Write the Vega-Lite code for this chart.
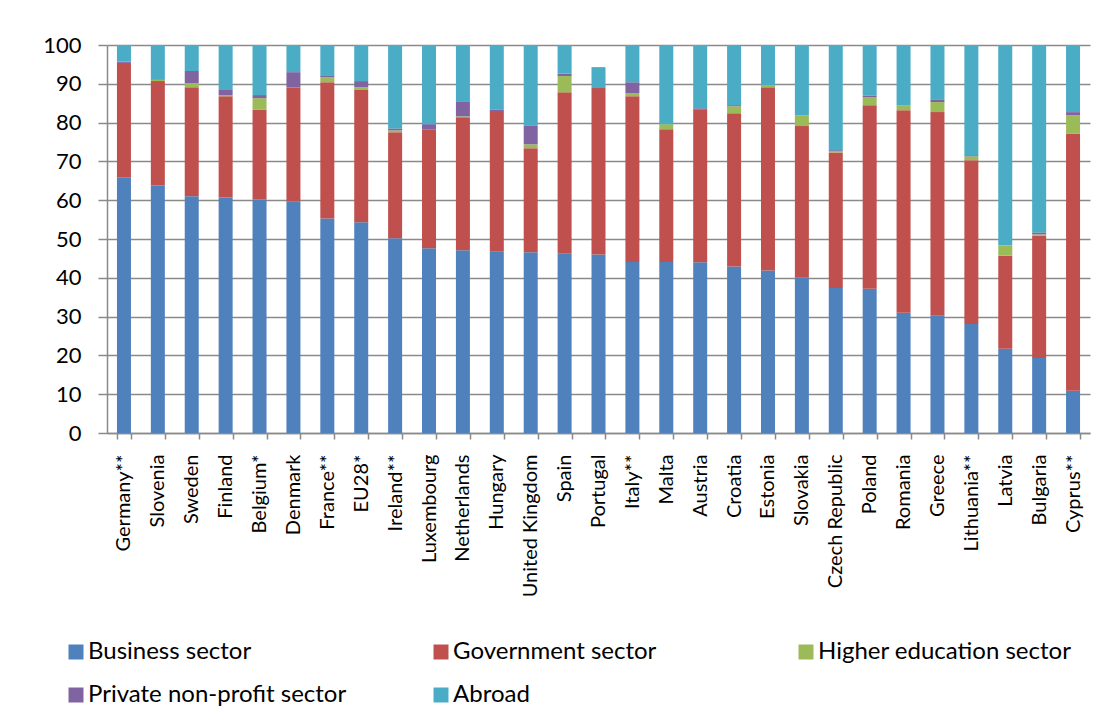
{
  "$schema": "https://vega.github.io/schema/vega-lite/v6.json",
  "width": 983,
  "height": 388,
  "autosize": {"type": "none"},
  "padding": {"left": 107, "top": 45, "right": 17, "bottom": 293},
  "background": "white",
  "data": {
    "values": [
      {"country": "Germany**", "Business sector": 65.9, "Government sector": 29.5, "Higher education sector": 0.0, "Private non-profit sector": 0.3, "Abroad": 4.3},
      {"country": "Slovenia", "Business sector": 63.8, "Government sector": 26.9, "Higher education sector": 0.3, "Private non-profit sector": 0.0, "Abroad": 9.0},
      {"country": "Sweden", "Business sector": 61.0, "Government sector": 28.1, "Higher education sector": 1.1, "Private non-profit sector": 3.1, "Abroad": 6.7},
      {"country": "Finland", "Business sector": 60.7, "Government sector": 26.1, "Higher education sector": 0.3, "Private non-profit sector": 1.3, "Abroad": 11.6},
      {"country": "Belgium*", "Business sector": 60.2, "Government sector": 23.2, "Higher education sector": 2.9, "Private non-profit sector": 0.8, "Abroad": 12.9},
      {"country": "Denmark", "Business sector": 59.7, "Government sector": 29.3, "Higher education sector": 0.0, "Private non-profit sector": 4.0, "Abroad": 7.0},
      {"country": "France**", "Business sector": 55.3, "Government sector": 35.1, "Higher education sector": 1.3, "Private non-profit sector": 0.5, "Abroad": 7.8},
      {"country": "EU28*", "Business sector": 54.3, "Government sector": 34.1, "Higher education sector": 0.7, "Private non-profit sector": 1.6, "Abroad": 9.3},
      {"country": "Ireland**", "Business sector": 50.2, "Government sector": 27.3, "Higher education sector": 0.5, "Private non-profit sector": 0.5, "Abroad": 21.5},
      {"country": "Luxembourg", "Business sector": 47.6, "Government sector": 30.7, "Higher education sector": 0.0, "Private non-profit sector": 1.3, "Abroad": 20.4},
      {"country": "Netherlands", "Business sector": 47.1, "Government sector": 34.3, "Higher education sector": 0.2, "Private non-profit sector": 3.9, "Abroad": 14.5},
      {"country": "Hungary", "Business sector": 46.7, "Government sector": 36.0, "Higher education sector": 0.0, "Private non-profit sector": 0.7, "Abroad": 16.6},
      {"country": "United Kingdom", "Business sector": 46.6, "Government sector": 26.8, "Higher education sector": 1.0, "Private non-profit sector": 4.9, "Abroad": 20.7},
      {"country": "Spain", "Business sector": 46.2, "Government sector": 41.6, "Higher education sector": 4.2, "Private non-profit sector": 0.6, "Abroad": 7.4},
      {"country": "Portugal", "Business sector": 46.0, "Government sector": 42.9, "Higher education sector": 0.0, "Private non-profit sector": 0.0, "Abroad": 5.4},
      {"country": "Italy**", "Business sector": 44.1, "Government sector": 42.7, "Higher education sector": 0.8, "Private non-profit sector": 2.8, "Abroad": 9.6},
      {"country": "Malta", "Business sector": 44.1, "Government sector": 34.2, "Higher education sector": 1.3, "Private non-profit sector": 0.0, "Abroad": 20.4},
      {"country": "Austria", "Business sector": 44.0, "Government sector": 39.3, "Higher education sector": 0.0, "Private non-profit sector": 0.4, "Abroad": 16.3},
      {"country": "Croatia", "Business sector": 42.9, "Government sector": 39.5, "Higher education sector": 1.8, "Private non-profit sector": 0.3, "Abroad": 15.5},
      {"country": "Estonia", "Business sector": 41.9, "Government sector": 47.2, "Higher education sector": 0.6, "Private non-profit sector": 0.0, "Abroad": 10.3},
      {"country": "Slovakia", "Business sector": 40.0, "Government sector": 39.1, "Higher education sector": 2.8, "Private non-profit sector": 0.0, "Abroad": 18.1},
      {"country": "Czech Republic", "Business sector": 37.4, "Government sector": 34.9, "Higher education sector": 0.3, "Private non-profit sector": 0.3, "Abroad": 27.1},
      {"country": "Poland", "Business sector": 37.2, "Government sector": 47.3, "Higher education sector": 2.1, "Private non-profit sector": 0.3, "Abroad": 13.1},
      {"country": "Romania", "Business sector": 31.0, "Government sector": 52.2, "Higher education sector": 1.3, "Private non-profit sector": 0.0, "Abroad": 15.5},
      {"country": "Greece", "Business sector": 30.2, "Government sector": 52.5, "Higher education sector": 2.6, "Private non-profit sector": 0.7, "Abroad": 14.0},
      {"country": "Lithuania**", "Business sector": 28.1, "Government sector": 42.2, "Higher education sector": 1.0, "Private non-profit sector": 0.3, "Abroad": 28.4},
      {"country": "Latvia", "Business sector": 21.7, "Government sector": 24.0, "Higher education sector": 2.6, "Private non-profit sector": 0.0, "Abroad": 51.7},
      {"country": "Bulgaria", "Business sector": 19.3, "Government sector": 31.6, "Higher education sector": 0.3, "Private non-profit sector": 0.5, "Abroad": 48.3},
      {"country": "Cyprus**", "Business sector": 10.9, "Government sector": 66.3, "Higher education sector": 4.7, "Private non-profit sector": 0.8, "Abroad": 17.3}
    ]
  },
  "transform": [
    {"fold": ["Business sector", "Government sector", "Higher education sector", "Private non-profit sector", "Abroad"], "as": ["sector", "value"]},
    {"calculate": "indexof(['Business sector','Government sector','Higher education sector','Private non-profit sector','Abroad'], datum.sector)", "as": "stackOrder"}
  ],
  "mark": {"type": "bar"},
  "encoding": {
    "x": {
      "field": "country",
      "type": "nominal",
      "sort": null,
      "scale": {"paddingInner": 0.587, "paddingOuter": 0.2935},
      "axis": {
        "title": null,
        "labelAngle": -90,
        "labelAlign": "right",
        "labelBaseline": "middle",
        "tickBand": "extent",
        "tickSize": 6,
        "labelPadding": 15,
        "domainColor": "#8a8a8a",
        "domainWidth": 1.5,
        "tickColor": "#8a8a8a",
        "tickWidth": 1.5,
        "labelFont": "Lato",
        "labelFontSize": 20,
        "labelColor": "black",
        "grid": false
      }
    },
    "y": {
      "field": "value",
      "type": "quantitative",
      "stack": "zero",
      "scale": {"domain": [0, 100], "nice": false},
      "axis": {
        "title": null,
        "values": [0, 10, 20, 30, 40, 50, 60, 70, 80, 90, 100],
        "tickSize": 9,
        "labelPadding": 17,
        "domainColor": "#8a8a8a",
        "domainWidth": 1.5,
        "tickColor": "#8a8a8a",
        "tickWidth": 1.5,
        "grid": true,
        "gridColor": "#8a8a8a",
        "gridWidth": 1.5,
        "labelFont": "Lato",
        "labelFontSize": 22,
        "labelColor": "black"
      }
    },
    "color": {
      "field": "sector",
      "type": "nominal",
      "sort": ["Business sector", "Government sector", "Higher education sector", "Private non-profit sector", "Abroad"],
      "scale": {
        "domain": ["Business sector", "Government sector", "Higher education sector", "Private non-profit sector", "Abroad"],
        "range": ["#4F81BD", "#C0504D", "#9BBB59", "#8064A2", "#4BACC6"]
      },
      "legend": {
        "title": null,
        "orient": "none",
        "legendX": -43,
        "legendY": 595,
        "padding": 0,
        "columns": 3,
        "direction": "horizontal",
        "gridAlign": "all",
        "symbolType": "square",
        "symbolSize": 225,
        "symbolStrokeWidth": 0,
        "labelFont": "Lato",
        "labelFontSize": 24,
        "labelColor": "black",
        "labelLimit": 500,
        "labelOffset": 0,
        "columnPadding": 82,
        "rowPadding": 19
      }
    },
    "order": {"field": "stackOrder", "type": "quantitative"}
  },
  "config": {
    "view": {"stroke": null}
  }
}
